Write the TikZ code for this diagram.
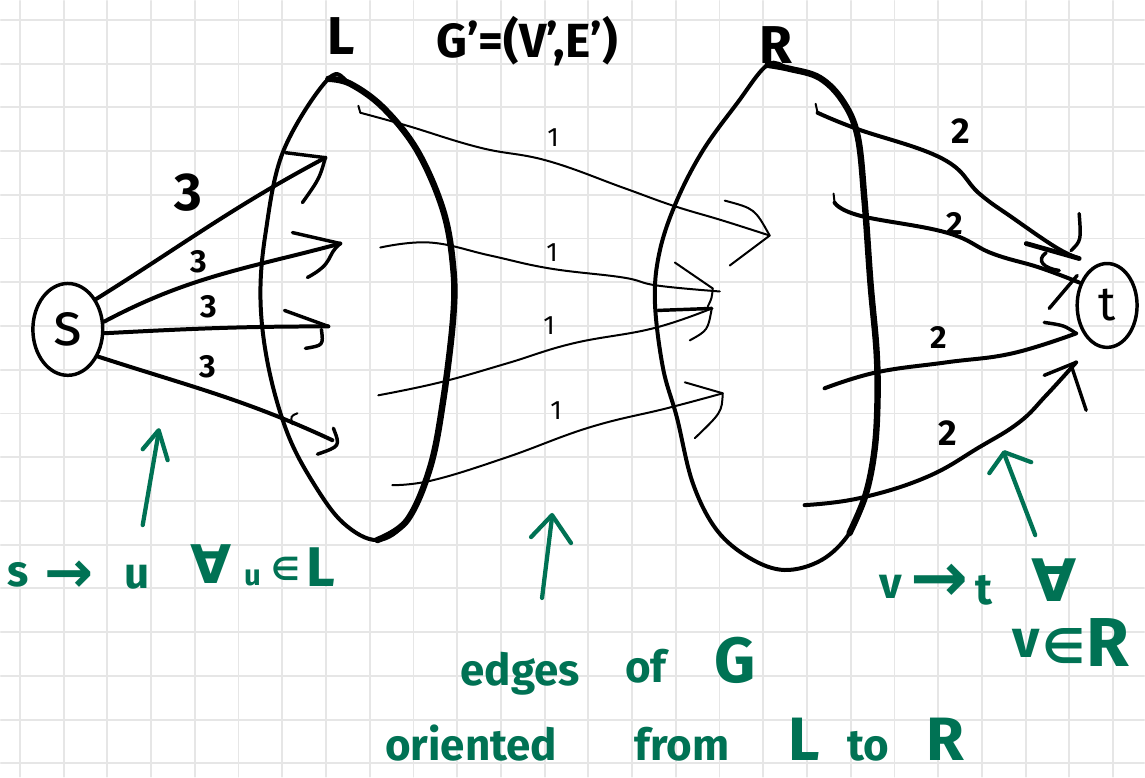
\documentclass[tikz,border=0pt]{standalone}
\usepackage{fontspec}
\setmainfont{Fira Sans}
\newfontfamily\symfont{DejaVu Sans}
\usetikzlibrary{shapes.geometric}
\definecolor{gridc}{RGB}{230,230,230}
\definecolor{grn}{RGB}{0,114,84}
\begin{document}
\begin{tikzpicture}[x=0.75pt,y=-0.75pt,line cap=round,line join=round,
  gridline/.style={draw=gridc,line width=1.4pt},
  outline/.style={line width=3pt},
  thickout/.style={line width=4.8pt},
  sedge/.style={line width=3pt},
  medge/.style={line width=1.5pt},
  redge/.style={line width=3pt},
  barb/.style={line width=2.6pt},
  garrow/.style={draw=grn,line width=3.2pt},
  vnode/.style={draw,ellipse,line width=2.6pt,inner sep=0pt},
  glab/.style={text=grn,inner sep=0pt,font=\fontsize{33}{33}\selectfont\bfseries},
  gsym/.style={text=grn,inner sep=0pt},
  blab/.style={inner sep=0pt}]
% background grid
\fill[white] (0,0) rectangle (1145,777);
\foreach \i in {0,...,25} \draw[gridline] ({19+43.8*\i},0) -- ({19+43.8*\i},777);
\foreach \j in {0,...,17} \draw[gridline] (0,{19+43.8*\j}) -- (1145,{19+43.8*\j});
\useasboundingbox (0,0) rectangle (1145,777);

% L set
\draw[outline] plot[smooth cycle,tension=0.6] coordinates {(328,78) (350,83) (383,107) (417,150) (443,210) (453,267) (453,317) (443,400) (430,467) (407,520) (377,540) (343,523) (313,483) (287,433) (268,367) (260,300) (265,233) (283,150)};
\draw[thickout] plot[smooth,tension=0.6] coordinates {(328,78) (350,83) (383,107) (417,150) (443,210) (453,267) (453,317) (443,400) (430,467) (407,520) (377,540)};
% R set
\draw[outline] plot[smooth cycle,tension=0.6] coordinates {(768,64) (790,68) (820,77) (843,100) (858,135) (865,200) (871,283) (877,350) (878,400) (875,450) (866,495) (850,533) (822,560) (785,570) (750,558) (717,530) (693,483) (677,417) (663,367) (655,300) (660,250) (677,200) (703,150) (737,103)};
\draw[thickout] plot[smooth,tension=0.6] coordinates {(768,64) (790,68) (820,77) (843,100) (858,135) (865,200) (871,283) (877,350) (878,400) (875,450) (866,495) (850,533)};

% source and sink
\node[vnode,minimum width=52.5pt,minimum height=69pt,font=\fontsize{46}{46}\selectfont] (s) at (67,329) {s};
\node[vnode,minimum width=45pt,minimum height=63pt,font=\fontsize{36}{36}\selectfont] (t) at (1108,305) {t};

% coordinates
\coordinate (a1) at (325,157);
\coordinate (a2) at (340,243);
\coordinate (a3) at (328,326);
\coordinate (a4) at (332,440);
\coordinate (m1s) at (360,112); \coordinate (m1t) at (770,235);
\coordinate (m2s) at (380,247); \coordinate (m2t) at (720,291);
\coordinate (m3s) at (378,395); \coordinate (m3t) at (712,308);
\coordinate (m4s) at (392,485); \coordinate (m4t) at (723,393);
\coordinate (r1s) at (818,112); \coordinate (r1t) at (1080,258);
\coordinate (r2s) at (835,202); \coordinate (r2t) at (1080,282);
\coordinate (r3s) at (825,388); \coordinate (r3t) at (1077,333);
\coordinate (r4s) at (805,505); \coordinate (r4t) at (1077,362);

% s -> L edges
\draw[sedge] (s.47) to[out=32,in=208] (a1);
\draw[sedge] (s.12) to[out=28,in=195] (a2);
\draw[sedge] (s.-6) to[out=3,in=180] (a3);
\draw[sedge] (s.-42) to[out=-18,in=155] (a4);
\draw[barb] (285,152) -- (a1) .. controls (319,178) .. (302,202);
\draw[barb] (292,232) -- (a2) .. controls (325,255) and (335,262) .. (307,277);
\draw[barb] (284,310) -- (a3);
\draw[barb] (321,329) .. controls (323,345) .. (305,348);
\draw[barb] (333,428) .. controls (340,446) .. (317,454);
\draw[medge] (297,413) .. controls (290,416) .. (292,424);

% L -> R edges
\draw[medge] plot[smooth,tension=0.7] coordinates {(m1s) (407,125) (480,147) (547,160) (623,187) (673,205) (723,220) (m1t)};
\draw[medge] (358,105) -- (m1s);
\draw[medge] (725,200) .. controls (755,208) .. (m1t) .. controls (750,250) .. (730,265);
\draw[medge] plot[smooth,tension=0.7] coordinates {(m2s) (430,242) (490,255) (550,268) (623,277) (657,285) (m2t)};
\draw[medge] (675,262) -- (713,288) .. controls (712,298) .. (708,306);
\draw[medge] plot[smooth,tension=0.7] coordinates {(m3s) (440,382) (507,363) (573,343) (653,328) (m3t)};
\draw[barb] (658,310) -- (m3t);
\draw[medge] (m3t) .. controls (708,330) .. (690,340);
\draw[medge] plot[smooth,tension=0.7] coordinates {(m4s) (433,480) (507,457) (590,427) (667,408) (m4t)};
\draw[medge] (685,382) -- (m4t) .. controls (722,412) .. (695,438);

% R -> t edges
\draw[redge] plot[smooth,tension=0.7] coordinates {(r1s) (857,128) (943,158) (980,193) (1013,217) (1057,247) (r1t)};
\draw[medge] (816,103) -- (r1s);
\draw[line width=3.6pt] (1027,243) -- (r1t);
\draw[barb] (1080,213) .. controls (1082,240) .. (1072,250);
\draw[redge] plot[smooth,tension=0.7] coordinates {(r2s) (860,215) (947,232) (993,253) (1040,267) (r2t)};
\draw[medge] (834,193) -- (r2s);
\draw[barb] (1047,252) .. controls (1036,260) and (1045,268) .. (1060,270);
\draw[barb] (1078,275) -- (1050,308);
\draw[redge] plot[smooth,tension=0.7] coordinates {(r3s) (877,372) (947,362) (1013,353) (r3t)};
\draw[barb] (1045,322) .. controls (1065,325) .. (r3t);
\draw[redge] plot[smooth,tension=0.7] coordinates {(r4s) (860,498) (927,477) (980,447) (1020,422) (1047,395) (r4t)};
\draw[barb] (1045,375) -- (r4t);
\draw[barb] (1073,368) -- (1087,410);

% edge labels
\node[blab,font=\fontsize{40}{40}\selectfont\bfseries] (w0) at (188,192) {3};
\node[blab,font=\fontsize{24}{24}\selectfont\bfseries] (w1) at (198,261) {3};
\node[blab,font=\fontsize{24}{24}\selectfont\bfseries] (w2) at (208,306) {3};
\node[blab,font=\fontsize{24}{24}\selectfont\bfseries] (w3) at (207,366) {3};
\node[blab,font=\fontsize{20}{20}\selectfont] (c1) at (553,137) {1};
\node[blab,font=\fontsize{20}{20}\selectfont] (c2) at (552,252) {1};
\node[blab,font=\fontsize{20}{20}\selectfont] (c3) at (549,325) {1};
\node[blab,font=\fontsize{20}{20}\selectfont] (c4) at (556,410) {1};
\node[blab,font=\fontsize{27}{27}\selectfont\bfseries] (d1) at (961,130) {2};
\node[blab,font=\fontsize{24}{24}\selectfont\bfseries] (d2) at (955,223) {2};
\node[blab,font=\fontsize{24}{24}\selectfont\bfseries] (d3) at (939,337) {2};
\node[blab,font=\fontsize{27}{27}\selectfont\bfseries] (d4) at (948,433) {2};

% titles
\node[blab,font=\fontsize{40}{40}\selectfont\bfseries] (Lt) at (341,35) {L};
\node[blab,font=\fontsize{36}{36}\selectfont\bfseries] (Gt) at (527,40) {G'=(V',E')};
\node[blab,font=\fontsize{40}{40}\selectfont\bfseries] (Rt) at (776,44) {R};

% green annotations
\draw[garrow] (142,525) -- (158,432);
\draw[garrow] (142,449) -- (158,430) -- (167,460);
\draw[garrow] (542,598) -- (552,517);
\draw[garrow] (531,537) -- (552,515) -- (571,543);
\draw[garrow] (1036,535) -- (1005,454);
\draw[garrow] (990,473) -- (1005,452) -- (1032,462);

\node[glab] (g1) at (17,575) {s};
\node[gsym,font=\symfont\bfseries\fontsize{44}{44}\selectfont] (g2) at (68,577) {→};
\node[glab] (g3) at (136,577) {u};
\node[gsym,font=\symfont\bfseries\fontsize{40}{40}\selectfont] (g4) at (211,564) {∀};
\node[glab,font=\fontsize{22}{22}\selectfont\bfseries] (g5) at (252,578) {u};
\node[gsym,font=\symfont\bfseries\fontsize{24}{24}\selectfont] (g6) at (285,569) {∈};
\node[glab,font=\fontsize{42}{42}\selectfont\bfseries] (g7) at (320,567) {L};

\node[glab,anchor=base] (e1) at (520,686) {edges};
\node[glab,anchor=base] (e2) at (646,683) {of};
\node[glab,anchor=base,font=\fontsize{48}{48}\selectfont\bfseries] (e3) at (735,683) {G};
\node[glab,anchor=base] (o1) at (471,761) {oriented};
\node[glab,anchor=base] (o2) at (682,761) {from};
\node[glab,anchor=base,font=\fontsize{46}{46}\selectfont\bfseries] (o3) at (805,761) {L};
\node[glab,anchor=base] (o4) at (869,761) {to};
\node[glab,anchor=base,font=\fontsize{46}{46}\selectfont\bfseries] (o5) at (946,761) {R};

\node[glab] (h1) at (891,587) {v};
\node[gsym,font=\symfont\bfseries\fontsize{52}{52}\selectfont] (h2) at (940,583) {→};
\node[glab] (h3) at (985,590) {t};
\node[gsym,font=\symfont\bfseries\fontsize{44}{44}\selectfont] (h4) at (1055,580) {∀};
\node[glab,font=\fontsize{40}{40}\selectfont\bfseries] (h5) at (1027,643) {v};
\node[gsym,font=\symfont\bfseries\fontsize{36}{36}\selectfont] (h6) at (1065,646) {∈};
\node[glab,font=\fontsize{52}{52}\selectfont\bfseries] (h7) at (1109,643) {R};
\end{tikzpicture}
\end{document}
